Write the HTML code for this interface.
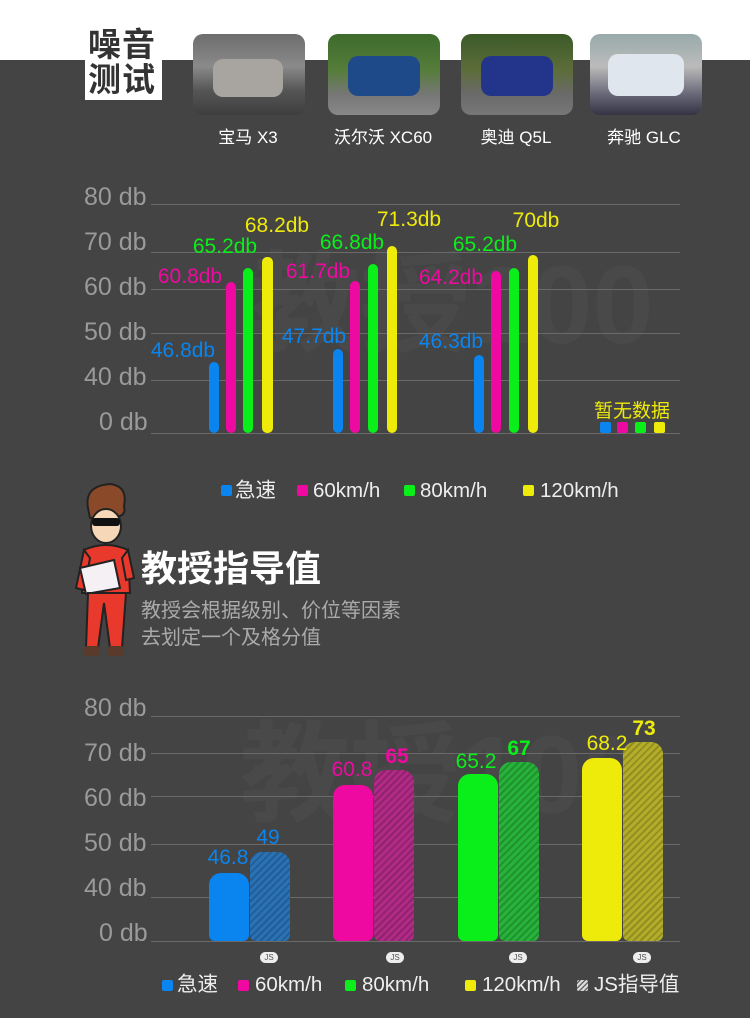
<!DOCTYPE html>
<html><head><meta charset="utf-8"><style>
*{margin:0;padding:0;box-sizing:border-box}
body{width:750px;height:1018px;background:#444444;position:relative;overflow:hidden;font-family:"Liberation Sans","Noto Sans CJK SC",sans-serif}
.a{position:absolute;white-space:nowrap}
.g{position:absolute;left:151px;width:529px;height:1px;background:#6a6a6a}
.yl{position:absolute;left:84px;width:66px;text-align:left;color:#9a9a9a;font-size:25px;line-height:24px}
.b{position:absolute;border-radius:5px}
.v{position:absolute;font-size:21px;line-height:20px;transform:translateX(-50%);white-space:nowrap}
.car{position:absolute;top:34px;width:112px;height:81px;border-radius:10px;overflow:hidden}
.cl{position:absolute;top:123px;color:#fff;font-size:17px;transform:translateX(-50%);white-space:nowrap}
.sq{position:absolute;width:11px;height:11px;border-radius:2px}
.lt{position:absolute;color:#eee;font-size:20.5px;line-height:20px;white-space:nowrap}
.bb{position:absolute;border-radius:12px 12px 6px 6px}
.js{position:absolute;width:18px;height:11px;border-radius:6px;background:#eee;color:#555;font-size:8px;line-height:11px;text-align:center;top:952px}
.hatch{background-image:repeating-linear-gradient(-45deg,rgba(0,0,0,0.18) 0 2px,transparent 2px 5px)}
</style></head><body>
<div class="a" style="left:0;top:0;width:750px;height:60px;background:#fff"></div>
<div class="a" style="left:85px;top:28px;width:77px;height:72px;background:#fff"></div>
<div class="a" style="left:88px;top:27px;color:#333;font-size:33px;line-height:35px;font-weight:bold;width:72px;white-space:normal;letter-spacing:1px">噪音<br>测试</div>

<div class="car" style="left:193px;background:linear-gradient(#6d6d6d 0,#8a8a8a 40%,#555 70%,#3e3e3e 100%)"><div class="a" style="left:20px;top:25px;width:70px;height:38px;border-radius:10px;background:#a8a49f"></div></div>
<div class="car" style="left:328px;background:linear-gradient(#3d6b2c 0,#567d3a 45%,#777 75%,#888 100%)"><div class="a" style="left:20px;top:22px;width:72px;height:40px;border-radius:10px;background:#1f4a8a"></div></div>
<div class="car" style="left:461px;background:linear-gradient(#3b5a28 0,#5d6d3a 45%,#6a6a6a 75%,#777 100%)"><div class="a" style="left:20px;top:22px;width:72px;height:40px;border-radius:10px;background:#23358a"></div></div>
<div class="car" style="left:590px;background:linear-gradient(#9aa 0,#bbb 40%,#667 75%,#334 100%)"><div class="a" style="left:18px;top:20px;width:76px;height:42px;border-radius:10px;background:#dfe6ee"></div></div>
<div class="cl" style="left:248px">宝马 X3</div>
<div class="cl" style="left:383px">沃尔沃 XC60</div>
<div class="cl" style="left:516px">奥迪 Q5L</div>
<div class="cl" style="left:644px">奔驰 GLC</div>

<div class="a" style="left:250px;top:215px;font-size:110px;font-weight:bold;color:rgba(255,255,255,0.03)">教授100</div>

<div class="g" style="top:204px"></div><div class="g" style="top:252px"></div><div class="g" style="top:289px"></div><div class="g" style="top:333px"></div><div class="g" style="top:380px"></div><div class="g" style="top:433px"></div>
<div class="yl" style="top:185px">80 db</div><div class="yl" style="top:230px">70 db</div><div class="yl" style="top:275px">60 db</div><div class="yl" style="top:320px">50 db</div><div class="yl" style="top:365px">40 db</div><div class="yl" style="top:410px;left:99px">0 db</div>

<div class="b" style="left:209px;top:362px;width:10px;height:71px;background:#0a84ee"></div>
<div class="b" style="left:226px;top:282px;width:10px;height:151px;background:#ee0aa0"></div>
<div class="b" style="left:243px;top:268px;width:10px;height:165px;background:#0aee1a"></div>
<div class="b" style="left:262px;top:257px;width:11px;height:176px;background:#eeea0a"></div>
<div class="b" style="left:333px;top:349px;width:10px;height:84px;background:#0a84ee"></div>
<div class="b" style="left:350px;top:281px;width:10px;height:152px;background:#ee0aa0"></div>
<div class="b" style="left:368px;top:264px;width:10px;height:169px;background:#0aee1a"></div>
<div class="b" style="left:387px;top:246px;width:10px;height:187px;background:#eeea0a"></div>
<div class="b" style="left:474px;top:355px;width:10px;height:78px;background:#0a84ee"></div>
<div class="b" style="left:491px;top:271px;width:10px;height:162px;background:#ee0aa0"></div>
<div class="b" style="left:509px;top:268px;width:10px;height:165px;background:#0aee1a"></div>
<div class="b" style="left:528px;top:255px;width:10px;height:178px;background:#eeea0a"></div>

<div class="v" style="left:183px;top:341px;color:#0a84ee">46.8db</div>
<div class="v" style="left:190px;top:267px;color:#ee0aa0">60.8db</div>
<div class="v" style="left:225px;top:237px;color:#0aee1a">65.2db</div>
<div class="v" style="left:277px;top:216px;color:#eeea0a">68.2db</div>
<div class="v" style="left:314px;top:327px;color:#0a84ee">47.7db</div>
<div class="v" style="left:318px;top:262px;color:#ee0aa0">61.7db</div>
<div class="v" style="left:352px;top:233px;color:#0aee1a">66.8db</div>
<div class="v" style="left:409px;top:210px;color:#eeea0a">71.3db</div>
<div class="v" style="left:451px;top:332px;color:#0a84ee">46.3db</div>
<div class="v" style="left:451px;top:268px;color:#ee0aa0">64.2db</div>
<div class="v" style="left:485px;top:235px;color:#0aee1a">65.2db</div>
<div class="v" style="left:536px;top:211px;color:#eeea0a">70db</div>

<div class="a" style="left:594px;top:396px;color:#eeea0a;font-size:19px">暂无数据</div>
<div class="sq" style="left:600px;top:422px;background:#0a84ee"></div>
<div class="sq" style="left:617px;top:422px;background:#ee0aa0"></div>
<div class="sq" style="left:635px;top:422px;background:#0aee1a"></div>
<div class="sq" style="left:654px;top:422px;background:#eeea0a"></div>

<div class="sq" style="left:221px;top:485px;background:#0a84ee"></div><div class="lt" style="left:235px;top:481px">急速</div>
<div class="sq" style="left:297px;top:485px;background:#ee0aa0"></div><div class="lt" style="left:313px;top:481px">60km/h</div>
<div class="sq" style="left:404px;top:485px;background:#0aee1a"></div><div class="lt" style="left:420px;top:481px">80km/h</div>
<div class="sq" style="left:523px;top:485px;background:#eeea0a"></div><div class="lt" style="left:540px;top:481px">120km/h</div>

<svg class="a" style="left:70px;top:478px" width="70" height="185" viewBox="0 0 70 185">
<path d="M18 30 Q14 8 40 6 Q58 8 54 28 Q56 36 50 38 L20 40 Z" fill="#8a4a2a" stroke="#222" stroke-width="2"/>
<ellipse cx="36" cy="48" rx="15" ry="17" fill="#f6d7b8" stroke="#222" stroke-width="2"/>
<rect x="22" y="40" width="28" height="8" rx="3" fill="#111"/>
<path d="M14 72 Q36 62 58 72 L60 115 L12 115 Z" fill="#e8392c" stroke="#222" stroke-width="2"/>
<path d="M14 72 L6 110 L14 112 L20 80 Z" fill="#e8392c" stroke="#222" stroke-width="2"/>
<path d="M58 72 L64 100 L56 102 L52 80 Z" fill="#e8392c" stroke="#222" stroke-width="2"/>
<path d="M10 90 L44 82 L50 110 L16 116 Z" fill="#f4f0f4" stroke="#222" stroke-width="2"/>
<path d="M18 115 L16 170 L28 170 L34 125 L40 170 L52 170 L56 115 Z" fill="#e8392c" stroke="#222" stroke-width="2"/>
<rect x="14" y="168" width="16" height="10" rx="3" fill="#5a3a2a"/><rect x="38" y="168" width="16" height="10" rx="3" fill="#5a3a2a"/>
</svg>
<div class="a" style="left:141px;top:548px;color:#fff;font-size:36px;font-weight:bold;line-height:42px">教授指导值</div>
<div class="a" style="left:141px;top:600px;color:#aaa;font-size:20px;line-height:22px">教授会根据级别、价位等因素</div>
<div class="a" style="left:141px;top:627px;color:#aaa;font-size:20px;line-height:22px">去划定一个及格分值</div>

<div class="a" style="left:240px;top:685px;font-size:110px;font-weight:bold;color:rgba(255,255,255,0.03)">教授100</div>
<div class="g" style="top:716px"></div><div class="g" style="top:753px"></div><div class="g" style="top:796px"></div><div class="g" style="top:844px"></div><div class="g" style="top:897px"></div><div class="g" style="top:941px"></div>
<div class="yl" style="top:696px">80 db</div><div class="yl" style="top:741px">70 db</div><div class="yl" style="top:786px">60 db</div><div class="yl" style="top:831px">50 db</div><div class="yl" style="top:876px">40 db</div><div class="yl" style="top:921px;left:99px">0 db</div>

<div class="bb" style="left:209px;top:873px;width:40px;height:68px;background:#0a84ee"></div>
<div class="bb hatch" style="left:250px;top:852px;width:40px;height:89px;background-color:#2a72b6"></div>
<div class="bb" style="left:333px;top:785px;width:40px;height:156px;background:#ee0aa0"></div>
<div class="bb hatch" style="left:374px;top:770px;width:40px;height:171px;background-color:#b02a86"></div>
<div class="bb" style="left:458px;top:774px;width:40px;height:167px;background:#0aee1a"></div>
<div class="bb hatch" style="left:499px;top:762px;width:40px;height:179px;background-color:#27b23a"></div>
<div class="bb" style="left:582px;top:758px;width:40px;height:183px;background:#eeea0a"></div>
<div class="bb hatch" style="left:623px;top:742px;width:40px;height:199px;background-color:#b3ad2a"></div>

<div class="v" style="left:228px;top:848px;color:#0a84ee;font-size:21px">46.8</div>
<div class="v" style="left:268px;top:828px;color:#0a84ee;font-size:21px">49</div>
<div class="v" style="left:352px;top:760px;color:#ee0aa0;font-size:21px">60.8</div>
<div class="v" style="left:397px;top:747px;color:#ee0aa0;font-size:21px;font-weight:bold">65</div>
<div class="v" style="left:476px;top:752px;color:#0aee1a;font-size:21px">65.2</div>
<div class="v" style="left:519px;top:739px;color:#0aee1a;font-size:21px;font-weight:bold">67</div>
<div class="v" style="left:607px;top:734px;color:#eeea0a;font-size:21px">68.2</div>
<div class="v" style="left:644px;top:719px;color:#eeea0a;font-size:21px;font-weight:bold">73</div>

<div class="js" style="left:260px">JS</div><div class="js" style="left:386px">JS</div><div class="js" style="left:509px">JS</div><div class="js" style="left:633px">JS</div>

<div class="sq" style="left:162px;top:980px;background:#0a84ee"></div><div class="lt" style="left:177px;top:975px">急速</div>
<div class="sq" style="left:238px;top:980px;background:#ee0aa0"></div><div class="lt" style="left:255px;top:975px">60km/h</div>
<div class="sq" style="left:345px;top:980px;background:#0aee1a"></div><div class="lt" style="left:362px;top:975px">80km/h</div>
<div class="sq" style="left:465px;top:980px;background:#eeea0a"></div><div class="lt" style="left:482px;top:975px">120km/h</div>
<div class="sq" style="left:577px;top:980px;background:repeating-linear-gradient(-45deg,#ddd 0 2px,#666 2px 3.5px)"></div><div class="lt" style="left:594px;top:975px">JS指导值</div>
</body></html>
